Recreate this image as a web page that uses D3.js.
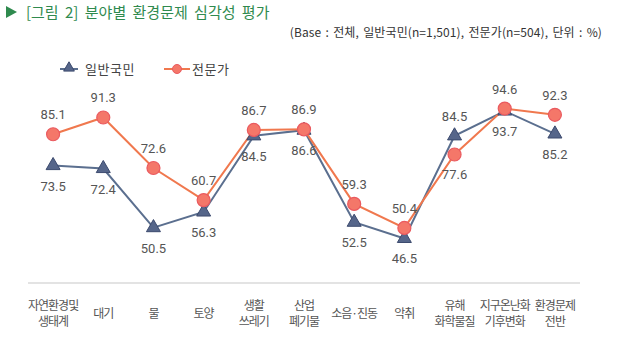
<!DOCTYPE html>
<html><head><meta charset="utf-8">
<script src="https://cdn.jsdelivr.net/npm/d3@7"></script>
<style>body{margin:0;background:#fff;}svg{display:block;font-family:"Noto Sans CJK KR","Noto Sans",sans-serif;}</style>
</head><body><svg id="c" width="640" height="350"></svg>
<script>
const categories = [["자연환경및","생태계"],["대기"],["물"],["토양"],["생활","쓰레기"],["산업","폐기물"],["소음·진동"],["악취"],["유해","화학물질"],["지구온난화","기후변화"],["환경문제","전반"]];
const generalValues = [73.5,72.4,50.5,56.3,84.5,86.6,52.5,46.5,84.5,93.7,85.2];
const expertValues = [85.1,91.3,72.6,60.7,86.7,86.9,59.3,50.4,77.6,94.6,92.3];
const seriesNames = ["일반국민","전문가"];

const svg = d3.select("#c");
const x = d3.scaleBand().domain(d3.range(categories.length)).range([28,580]);
const y = d3.scaleLinear().domain([30,100]).range([283,94]);
const cx = i => x(i) + x.bandwidth()/2;

// title
svg.append("path").attr("d","M6,6 L17,12 L6,18 Z").attr("fill","#2f8a4e");
svg.append("text").attr("x",26).attr("y",18).attr("font-size",15).attr("word-spacing",3).attr("fill","#2f8a4e")
  .text("[그림 2] 분야별 환경문제 심각성 평가");
svg.append("text").attr("x",602).attr("y",37).attr("text-anchor","end").attr("font-size",12).attr("letter-spacing",0.1).attr("word-spacing",1.5).attr("fill","#333")
  .text("(Base : 전체, 일반국민(n=1,501), 전문가(n=504), 단위 : %)");

// axis baseline
svg.append("line").attr("x1",28).attr("x2",580).attr("y1",283).attr("y2",283).attr("stroke","#e3e3e3").attr("stroke-width",2);

// category labels
const cat = svg.append("g");
categories.forEach((c,i)=>{
  const t = cat.append("text").attr("x",cx(i)).attr("text-anchor","middle").attr("font-size",12).attr("fill","#555").attr("letter-spacing",-1);
  if(c.length===1){ t.append("tspan").attr("x",cx(i)).attr("y",318).text(c[0]); }
  else { c.forEach((s,j)=>t.append("tspan").attr("x",cx(i)).attr("y",310+j*16).text(s)); }
});

const gColor = "#5b6f8f", eColor = "#f0784e";
const line = d3.line().x((d,i)=>cx(i)).y(d=>y(d));

svg.append("path").datum(generalValues).attr("d",line).attr("fill","none").attr("stroke",gColor).attr("stroke-width",2);
svg.append("path").datum(expertValues).attr("d",line).attr("fill","none").attr("stroke",eColor).attr("stroke-width",2);

const tri = d3.symbol().type(d3.symbolTriangle).size(85);
svg.selectAll(".gm").data(generalValues).join("path").attr("transform",(d,i)=>`translate(${cx(i)},${y(d)})`)
  .attr("d",tri).attr("fill","#56668a").attr("stroke","#3c4a6e").attr("stroke-width",1);
svg.selectAll(".em").data(expertValues).join("circle").attr("cx",(d,i)=>cx(i)).attr("cy",d=>y(d)).attr("r",6.5)
  .attr("fill","#f47769").attr("stroke","#ea5a5f").attr("stroke-width",1.2);

// label above for the higher series, below for the lower
const ly = (v, other) => v > other ? y(v) - 15 : y(v) + 25;
svg.selectAll(".gl").data(generalValues).join("text").attr("x",(d,i)=>cx(i)).attr("y",(d,i)=>ly(d, expertValues[i]))
  .attr("text-anchor","middle").attr("font-size",13).attr("fill","#555").attr("font-family","Roboto, 'Liberation Sans', sans-serif").text(d=>d.toFixed(1));
svg.selectAll(".el").data(expertValues).join("text").attr("x",(d,i)=>cx(i)).attr("y",(d,i)=>ly(d, generalValues[i]))
  .attr("text-anchor","middle").attr("font-size",13).attr("fill","#555").attr("font-family","Roboto, 'Liberation Sans', sans-serif").text(d=>d.toFixed(1));

// legend
const lg = svg.append("g");
lg.append("line").attr("x1",60).attr("x2",78).attr("y1",69).attr("y2",69).attr("stroke",gColor).attr("stroke-width",2);
lg.append("path").attr("transform","translate(69,68)").attr("d",d3.symbol().type(d3.symbolTriangle).size(50)).attr("fill","#56668a").attr("stroke","#3c4a6e");
lg.append("text").attr("x",85).attr("y",74).attr("font-size",13).attr("letter-spacing",0.5).attr("fill","#444").text(seriesNames[0]);
lg.append("line").attr("x1",164).attr("x2",190).attr("y1",69).attr("y2",69).attr("stroke",eColor).attr("stroke-width",2);
lg.append("circle").attr("cx",177).attr("cy",69).attr("r",4.5).attr("fill","#f47769").attr("stroke","#ea5a5f");
lg.append("text").attr("x",192).attr("y",74).attr("font-size",13).attr("letter-spacing",0.5).attr("fill","#444").text(seriesNames[1]);
</script></body></html>
